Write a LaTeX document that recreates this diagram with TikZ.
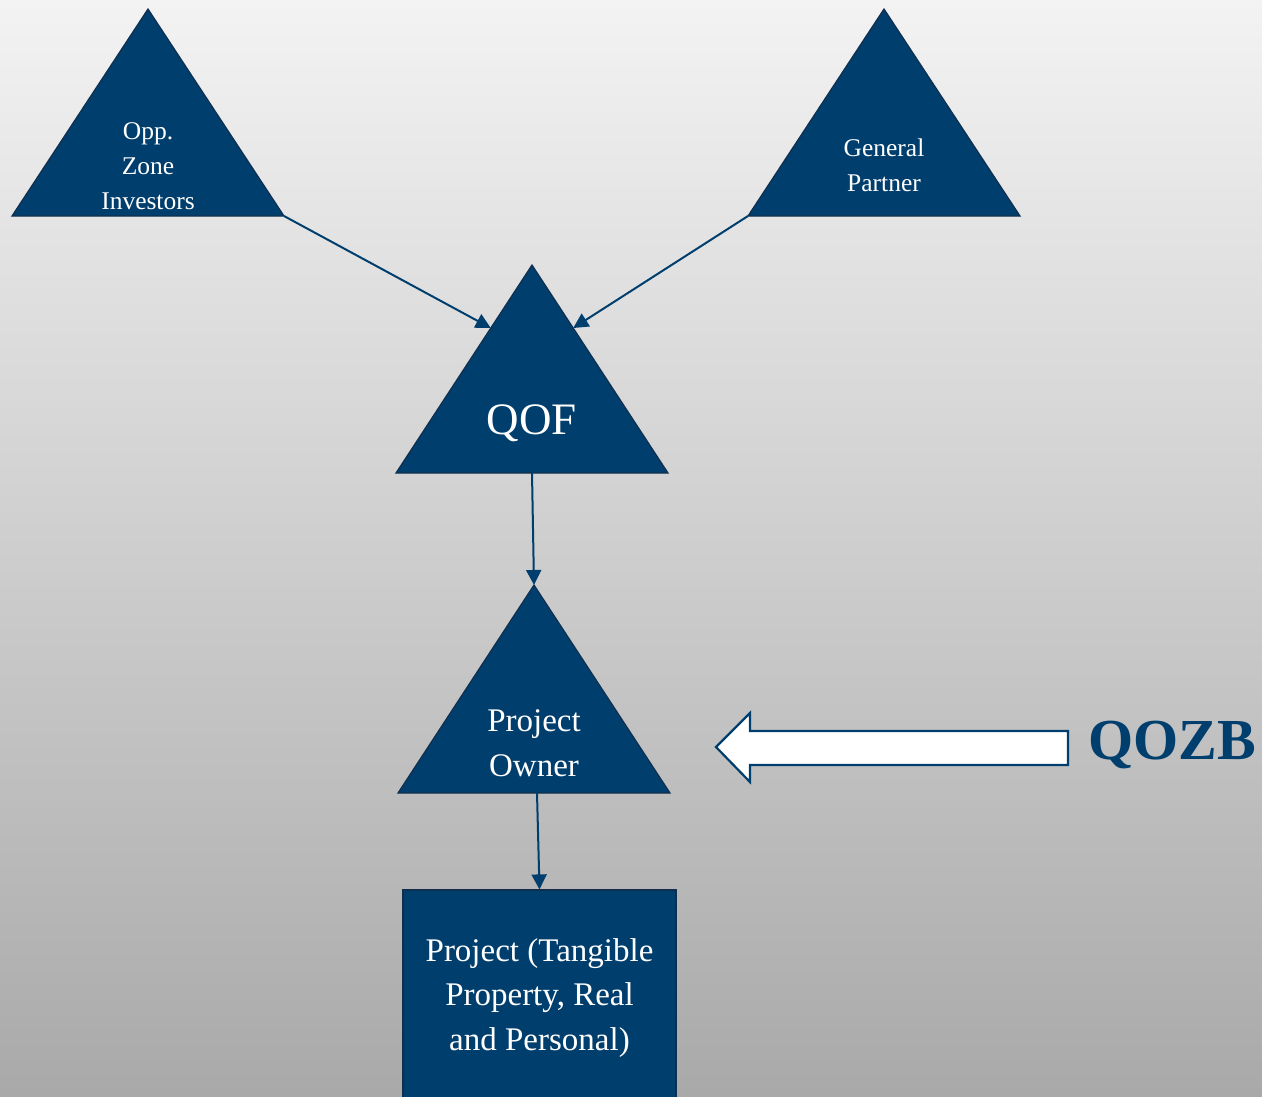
\documentclass[tikz,border=0pt]{standalone}
\usepackage{fontspec}
\setmainfont{Liberation Serif}
\usetikzlibrary{arrows.meta,calc}
\definecolor{navy}{HTML}{003E6D}
\definecolor{navyline}{HTML}{102F4E}
\definecolor{bgtop}{HTML}{F3F3F3}
\definecolor{bgbottom}{HTML}{A9A9A9}
\begin{document}
\begin{tikzpicture}[x=1pt,y=-1pt,
  tri/.style={fill=navy,draw=navyline,line width=1.2pt,line join=miter},
  lbl/.style={text=white,align=center,inner sep=0pt},
  small/.style={lbl,font=\fontsize{25.5}{35}\selectfont},
  large/.style={lbl,font=\fontsize{33}{44.5}\selectfont},
  link/.style={draw=navy,line width=2pt,-{Triangle[length=15pt,width=15pt]}},
  bigarrow/.style={fill=white,draw=navy,line width=2.2pt,line join=miter}
 ]
% backdrop
\shade[top color=bgtop,bottom color=bgbottom] (0,0) rectangle (1262,1096);
\useasboundingbox (0,0) rectangle (1262,1096);

% corner points of the four triangles
\coordinate (inv-top) at (148,9);
\coordinate (inv-l) at (12,216);
\coordinate (inv-r) at (284,216);
\coordinate (gp-top) at (884,9);
\coordinate (gp-l) at (748,216);
\coordinate (gp-r) at (1020,216);
\coordinate (qof-top) at (532,265);
\coordinate (qof-l) at (396,473);
\coordinate (qof-r) at (668,473);
\coordinate (po-top) at (534,585);
\coordinate (po-l) at (398,793);
\coordinate (po-r) at (670,793);

\draw[tri] (inv-top) -- (inv-r) -- (inv-l) -- cycle;
\draw[tri] (gp-top) -- (gp-r) -- (gp-l) -- cycle;
\draw[tri] (qof-top) -- (qof-r) -- (qof-l) -- cycle;
\draw[tri] (po-top) -- (po-r) -- (po-l) -- cycle;

% labels
\node[small] (inv) at (148,166) {Opp.\\Zone\\Investors};
\node[small] (gp) at (884,165) {General\\Partner};
\node[lbl,font=\fontsize{45}{50}\selectfont] (qof) at (532,423) {QOF};
\node[large] (po) at (534,743) {Project\\Owner};

% project box
\node[fill=navy,draw=navyline,line width=1.2pt,minimum width=273pt,
      minimum height=212pt,inner sep=0pt] (proj) at (539.5,996) {};
\node[large] (projtxt) at (539.5,998) {Project (Tangible\\Property, Real\\and Personal)};

% connectors
\draw[link] (inv-r) -- ($(qof-top)!0.303!(qof-l)$);
\draw[link] (gp-l) -- ($(qof-top)!0.303!(qof-r)$);
\draw[link] ($(qof-l)!0.5!(qof-r)$) -- (po-top);
\draw[link] ($(po-l)!0.5!(po-r)+(3,0)$) -- (proj.north);

% hollow pointer and its label
\coordinate (ptr-tip) at (716,747);
\draw[bigarrow] (ptr-tip) -- (750,713) -- (750,731) -- (1068,731) -- (1068,765)
  -- (750,765) -- (750,782) -- cycle;
\node[text=navy,font=\fontsize{58}{60}\selectfont\bfseries,inner sep=0pt] (qozb) at (1172,745) {QOZB};
\end{tikzpicture}
\end{document}
